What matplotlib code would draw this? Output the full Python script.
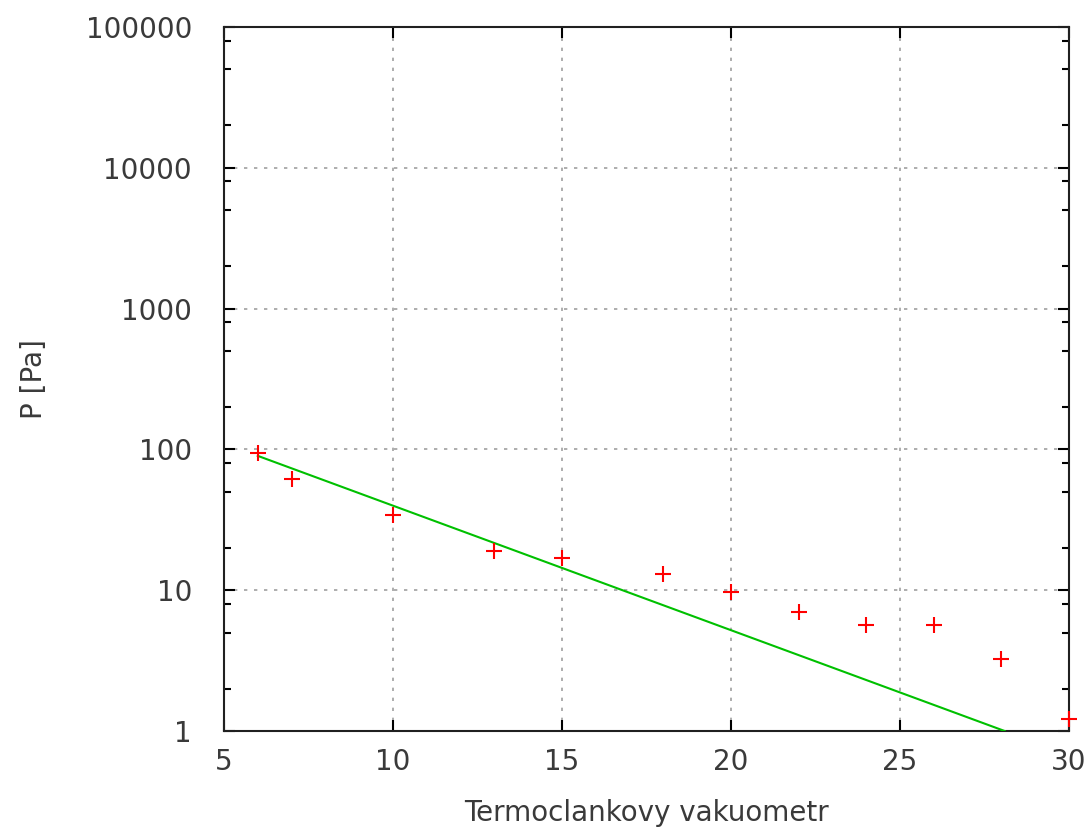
import matplotlib.pyplot as plt
from matplotlib.ticker import LogLocator, FixedLocator, NullFormatter, NullLocator

plt.rcParams['font.family'] = ['DejaVu Sans']

# measured points
x_meas = [6, 7, 10, 13, 15, 18, 20, 22, 24, 26, 28, 30]
p_meas = [94, 62, 34, 19, 17, 13, 9.7, 7.0, 5.7, 5.7, 3.25, 1.22]

# fitted line (straight in log scale), end points
x_fit = [6, 28.1]
p_fit = [90, 1.0]

x_ticks = [5, 10, 15, 20, 25, 30]
y_ticks = [1, 10, 100, 1000, 10000, 100000]
y_tick_labels = ['1', '10', '100', '1000', '10000', '100000']

text_color = '#3a3a3a'

fig = plt.figure(figsize=(10.9, 8.33), dpi=100)
ax = fig.add_axes([0.2055, 0.1224, 0.7752, 0.8452])

ax.plot(x_fit, p_fit, color='#00c000', lw=1.5, zorder=3)
ax.plot(x_meas, p_meas, linestyle='none', marker='+', color='#ff0000',
        markersize=12, markeredgewidth=1.5, zorder=4, clip_on=False)

ax.set_yscale('log')
ax.set_xlim(5, 30)
ax.set_ylim(1, 100000)

ax.xaxis.set_major_locator(FixedLocator(x_ticks))
ax.set_xticklabels([str(v) for v in x_ticks])
ax.xaxis.set_minor_locator(NullLocator())
ax.yaxis.set_major_locator(FixedLocator(y_ticks))
ax.set_yticklabels(y_tick_labels)
ax.yaxis.set_minor_locator(LogLocator(base=10, subs=(2.0, 5.0, 8.0)))
ax.yaxis.set_minor_formatter(NullFormatter())

ax.tick_params(which='both', direction='in', top=True, right=True,
               labelsize=20, colors='black', labelcolor=text_color, width=1.5)
ax.tick_params(which='major', length=8)
ax.tick_params(axis='x', which='major', pad=12)
ax.tick_params(axis='y', which='major', pad=23)
ax.tick_params(which='minor', length=5)

ax.grid(True, which='major', linestyle=(0, (2, 4)), color='#a0a0a0', lw=1.2)
for s in ax.spines.values():
    s.set_linewidth(1.5)
    s.set_color('#202020')

ax.set_xlabel('Termoclankovy vakuometr', fontsize=20, color=text_color, labelpad=17)
ax.set_ylabel('P [Pa]', fontsize=20, color=text_color, labelpad=27)

fig.savefig('out.png', dpi=100)
